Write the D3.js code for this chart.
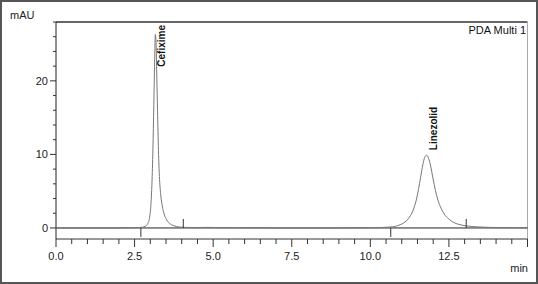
<!DOCTYPE html>
<html><head><meta charset="utf-8">
<script src="https://cdn.jsdelivr.net/npm/d3@7"></script>
<style>
html,body{margin:0;padding:0;background:#fff;}
svg{display:block;font-family:"Liberation Sans",Arial,sans-serif;}
</style></head>
<body>
<script>
// Chromatogram data (time in min, absorbance in mAU)
const times = [0,0.5,1,1.5,2,2.4,2.6,2.75,2.85,2.92,2.98,3.02,3.06,3.09,3.12,3.14,3.16,3.18,3.2,3.23,3.26,3.29,3.33,3.38,3.44,3.52,3.62,3.75,3.9,4.1,4.4,4.8,5.2,5.6,6,7,8,9,9.8,10.3,10.6,10.8,10.95,11.1,11.25,11.35,11.45,11.53,11.6,11.67,11.73,11.79,11.85,11.92,11.99,12.07,12.15,12.25,12.35,12.5,12.65,12.85,13.05,13.4,13.8,14.3,15];
const signal = [0,0,0,0,0,0.02,0.05,0.1,0.25,0.6,1.5,3.2,7,12,18.5,23,26.3,25.5,22,16,10.5,7,4.6,3,1.9,1.1,0.6,0.3,0.15,0.08,0.05,0.08,0.05,0.03,0.02,0,0,0,0.02,0.05,0.12,0.22,0.45,0.8,1.5,2.3,3.6,5.2,6.9,8.6,9.6,9.9,9.5,8.4,6.8,5.1,3.8,2.7,1.9,1.2,0.75,0.45,0.28,0.15,0.08,0.04,0.02];
const peakNames = ["Cefixime","Linezolid"];
const peakTimes = [3.16,11.79];
const peakHeights = [26.3,9.9];
const markerTimes = [2.7,4.05,10.65,13.05];
const markerDir = [-1,1,-1,1]; // -1 below baseline, 1 above
const xTicks = [0,2.5,5,7.5,10,12.5];
const yTicks = [0,10,20];

const W=538,H=284;
const svg=d3.select("body").append("svg").attr("width",W).attr("height",H);
svg.append("rect").attr("x",1).attr("y",1).attr("width",W-2).attr("height",H-2)
  .attr("fill","#fff").attr("stroke","#555").attr("stroke-width",2);

const x=d3.scaleLinear().domain([0,15]).range([56,527.5]);
const y=d3.scaleLinear().domain([-1.5,28]).range([239,22]);

// frame top and right
svg.append("line").attr("x1",56).attr("x2",527.5).attr("y1",22).attr("y2",22)
  .attr("stroke","#666").attr("stroke-width",2);
svg.append("line").attr("x1",527.5).attr("x2",527.5).attr("y1",22).attr("y2",247)
  .attr("stroke","#aaa").attr("stroke-width",1);

// x axis
const xMinor=d3.range(0,15.01,0.5);
const gx=svg.append("g");
gx.append("line").attr("x1",56).attr("x2",527.5).attr("y1",239).attr("y2",239).attr("stroke","#333");
gx.selectAll("line.t").data(xMinor).join("line").attr("class","t")
  .attr("x1",d=>x(d)).attr("x2",d=>x(d)).attr("y1",239)
  .attr("y2",d=>Math.abs(d/2.5-Math.round(d/2.5))<1e-6?247:244).attr("stroke","#333");
gx.selectAll("text").data(xTicks).join("text")
  .attr("x",d=>x(d)).attr("y",260).attr("text-anchor","middle")
  .attr("font-size",11).attr("fill","#222").text(d=>d.toFixed(1));

// y axis
const yMinor=d3.range(0,28.01,2);
const gy=svg.append("g");
gy.append("line").attr("x1",56).attr("x2",56).attr("y1",22).attr("y2",239).attr("stroke","#222");
gy.selectAll("line.t").data(yMinor).join("line").attr("class","t")
  .attr("y1",d=>y(d)).attr("y2",d=>y(d)).attr("x2",56)
  .attr("x1",d=>d%10===0?50:53).attr("stroke","#333");
gy.selectAll("text").data(yTicks).join("text")
  .attr("x",48).attr("y",d=>y(d)+4).attr("text-anchor","end")
  .attr("font-size",11).attr("fill","#222").text(d=>d);

// baseline
svg.append("line").attr("x1",56).attr("x2",527.5).attr("y1",y(0)).attr("y2",y(0))
  .attr("stroke","#222").attr("stroke-width",1);

// signal
const data=times.map((t,i)=>[t,signal[i]]);
svg.append("path").datum(data)
  .attr("d",d3.line().x(d=>x(d[0])).y(d=>y(d[1])).curve(d3.curveMonotoneX))
  .attr("fill","none").attr("stroke","#777").attr("stroke-width",1);

// integration markers
svg.selectAll("line.m").data(markerTimes).join("line").attr("class","m")
  .attr("x1",d=>x(d)).attr("x2",d=>x(d)).attr("y1",y(0))
  .attr("y2",(d,i)=>y(0)-markerDir[i]*9).attr("stroke","#333");

// peak labels
const labels=svg.selectAll("text.p").data(peakNames).join("text").attr("class","p")
  .attr("font-size",10).attr("font-weight","bold").attr("fill","#111").text(d=>d);
labels.each(function(d,i){
  const len=this.getComputedTextLength();
  const by=Math.max(y(peakHeights[i])-5, 25+len);
  d3.select(this).attr("transform",`translate(${x(peakTimes[i])+10},${by}) rotate(-90)`);
});

svg.append("text").attr("x",10).attr("y",19).attr("font-size",11).attr("fill","#222").text("mAU");
svg.append("text").attr("x",528).attr("y",272).attr("text-anchor","end").attr("font-size",11).attr("fill","#222").text("min");
svg.append("text").attr("x",526).attr("y",34).attr("text-anchor","end").attr("font-size",11).attr("fill","#111").text("PDA Multi 1");
</script>
</body></html>
